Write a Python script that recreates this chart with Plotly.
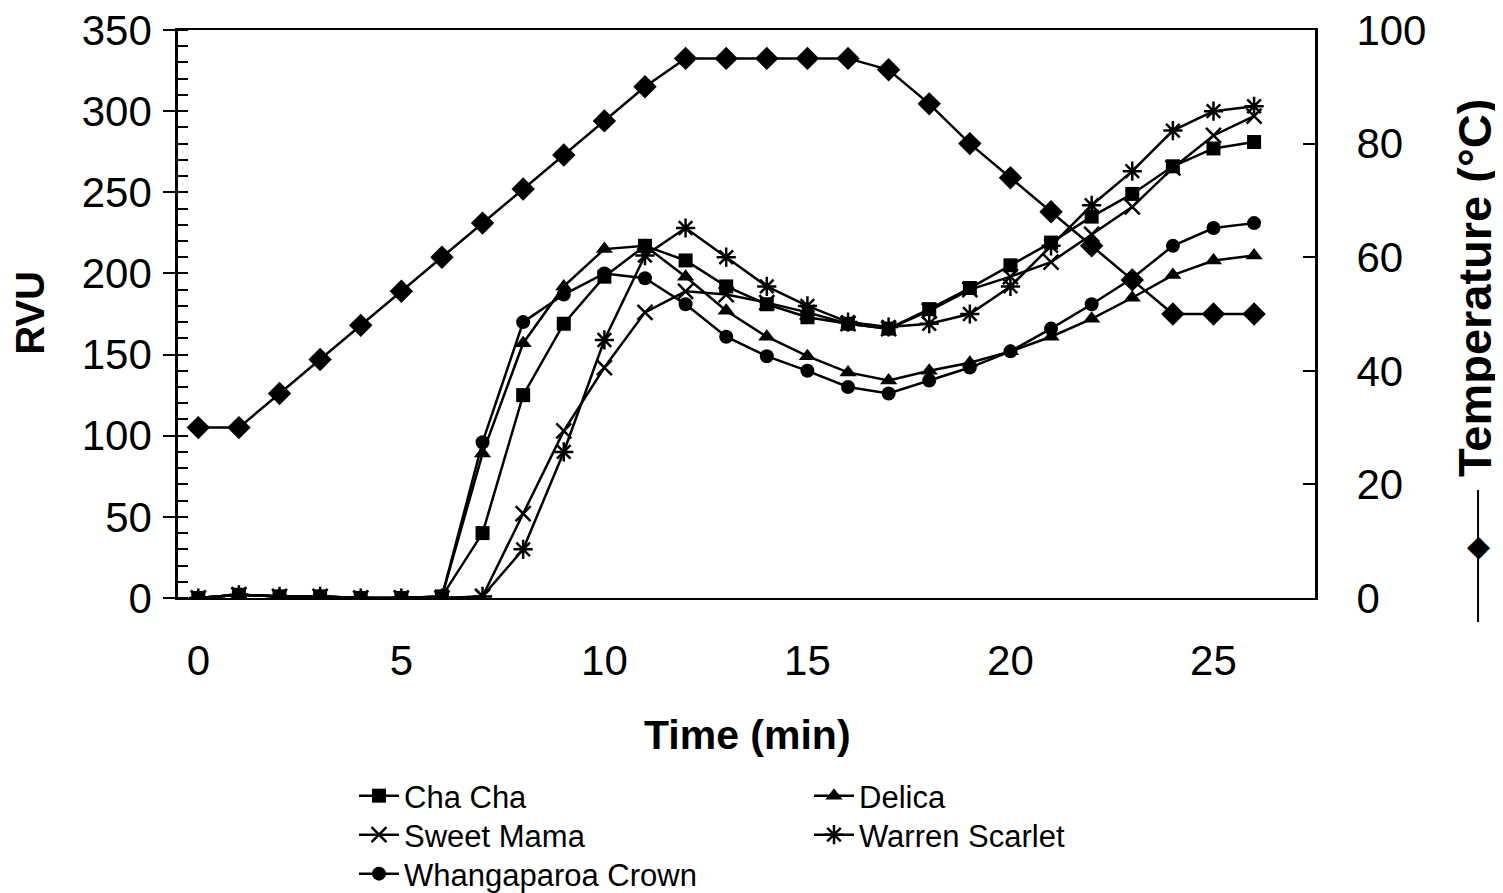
import plotly.graph_objects as go

time_min = list(range(27))

cha_cha = [0, 2, 1, 1, 0, 0, 1, 40, 125, 169, 198, 217, 208, 192, 181, 173, 169, 166, 178, 191, 205, 219, 235, 249, 266, 277, 281]
delica = [0, 2, 1, 1, 0, 0, 1, 89, 157, 192, 215, 217, 198, 177, 161, 149, 139, 134, 140, 145, 152, 161, 172, 185, 199, 208, 211]
sweet_mama = [0, 2, 1, 1, 0, 0, 0, 1, 52, 103, 142, 176, 189, 187, 182, 176, 169, 166, 177, 190, 198, 207, 224, 241, 265, 285, 297]
warren_scarlet = [0, 2, 1, 1, 0, 0, 0, 1, 30, 90, 159, 211, 228, 210, 192, 180, 170, 167, 169, 175, 192, 217, 242, 263, 288, 300, 303]
whangaparoa = [0, 2, 1, 1, 0, 0, 1, 96, 170, 187, 200, 197, 181, 161, 149, 140, 130, 126, 134, 142, 152, 166, 181, 197, 217, 228, 231]
temperature = [30, 30, 36, 42, 48, 54, 60, 66, 72, 78, 84, 90, 95, 95, 95, 95, 95, 93, 87, 80, 74, 68, 62, 56, 50, 50, 50]

series_names = ["Cha Cha", "Delica", "Sweet Mama", "Warren Scarlet", "Whangaparoa Crown"]
series_values = [cha_cha, delica, sweet_mama, warren_scarlet, whangaparoa]
series_symbols = ["square", "triangle-up", "x-thin-open", "asterisk-open", "circle"]
series_sizes = [14, 15, 15, 16, 14]
series_legend_rows = ["legend", "legend", "legend2", "legend2", "legend3"]

x_tick_labels = [0, 5, 10, 15, 20, 25]
x_boundary_ticks = [4.5, 9.5, 14.5, 19.5, 24.5]
left_ticks = [0, 50, 100, 150, 200, 250, 300, 350]
right_ticks = [0, 20, 40, 60, 80, 100]

FONT = "Liberation Sans, Arial, sans-serif"

fig = go.Figure()

fig.add_trace(go.Scatter(
    x=time_min, y=temperature, name="Temperature (°C)", yaxis="y2",
    mode="lines+markers", showlegend=False,
    line=dict(color="black", width=2.5),
    marker=dict(symbol="diamond", size=18, color="black", line=dict(width=0)),
))

for name, vals, sym, sz, lg in zip(series_names, series_values, series_symbols,
                                   series_sizes, series_legend_rows):
    open_sym = sym.endswith("-open")
    fig.add_trace(go.Scatter(
        x=time_min, y=vals, name=name, mode="lines+markers", legend=lg,
        line=dict(color="black", width=2.5),
        marker=dict(symbol=sym, size=sz, color="black",
                    line=dict(color="black", width=2.5 if open_sym else 0)),
    ))


def legend_row(y):
    return dict(
        orientation="h", x=0.1548, y=y, xanchor="left", yanchor="middle",
        entrywidth=400, entrywidthmode="pixels",
        font=dict(family=FONT, size=31, color="black"),
        bgcolor="rgba(0,0,0,0)", tracegroupgap=0, itemwidth=40,
    )


fig.update_layout(
    width=1495, height=885,
    margin=dict(l=170, r=188, t=22, b=295, autoexpand=False),
    paper_bgcolor="white", plot_bgcolor="white",
    font=dict(family=FONT, color="black", size=42),
    showlegend=True,
    legend=legend_row(-0.3486),
    legend2=legend_row(-0.4173),
    legend3=legend_row(-0.4859),
    xaxis=dict(
        range=[-0.5, 27.5], tickmode="array", tickvals=x_tick_labels,
        ticks="", showline=True, linecolor="black", linewidth=2, mirror=True,
        showgrid=False, zeroline=False, tickfont=dict(size=42),
        ticklabelstandoff=25, ticklabeloverflow="allow",
    ),
    xaxis2=dict(
        overlaying="x", anchor="y", side="bottom", range=[-0.5, 27.5],
        tickmode="array", tickvals=x_boundary_ticks, ticks="inside",
        ticklen=10, tickwidth=1.5, tickcolor="black", showticklabels=False,
        showline=False, showgrid=False, zeroline=False,
    ),
    yaxis=dict(
        range=[0, 350], tickmode="array", tickvals=left_ticks,
        ticks="outside", ticklen=12, tickwidth=2, tickcolor="black",
        minor=dict(ticks="inside", dtick=10, ticklen=10, tickwidth=1.5, tickcolor="black"),
        showline=True, linecolor="black", linewidth=2.5, mirror=True,
        showgrid=False, zeroline=False, tickfont=dict(size=42),
        ticklabelstandoff=3, ticklabeloverflow="allow",
    ),
    yaxis3=dict(
        overlaying="y", anchor="x", side="left", range=[0, 350],
        tickmode="array", tickvals=left_ticks, ticks="inside", ticklen=13,
        tickwidth=2, tickcolor="black", showticklabels=False,
        showline=False, showgrid=False, zeroline=False,
    ),
    yaxis2=dict(
        overlaying="y", anchor="x", side="right", range=[0, 100],
        tickmode="array", tickvals=right_ticks, ticks="inside", ticklen=12,
        tickwidth=1.5, tickcolor="black", showline=True, linecolor="black",
        linewidth=2, showgrid=False, zeroline=False, tickfont=dict(size=42),
        ticklabelstandoff=31, ticklabeloverflow="allow",
    ),
    annotations=[
        dict(text="<b>RVU</b>", xref="paper", yref="paper", x=-0.1302, y=0.502,
             xanchor="center", yanchor="middle",
             textangle=-90, showarrow=False, font=dict(size=40, family=FONT)),
        dict(text="<b>Time (min)</b>", xref="paper", yref="paper", x=0.501, y=-0.241,
             xanchor="center", yanchor="middle",
             showarrow=False, font=dict(size=41, family=FONT)),
        dict(text="<b>Temperature (°C)</b>", xref="paper", yref="paper", x=1.1408, y=0.546,
             xanchor="center", yanchor="middle",
             textangle=-90, showarrow=False, font=dict(size=47, family=FONT)),
        dict(text="◆", xref="paper", yref="paper", x=1.1434, y=0.0933,
             xanchor="center", yanchor="middle",
             showarrow=False, font=dict(size=30, family="DejaVu Sans")),
    ],
    shapes=[
        dict(type="line", xref="paper", yref="paper", x0=1.1434, x1=1.1434,
             y0=-0.0423, y1=0.190, line=dict(color="black", width=2)),
    ],
)

fig.write_html("out.html")
